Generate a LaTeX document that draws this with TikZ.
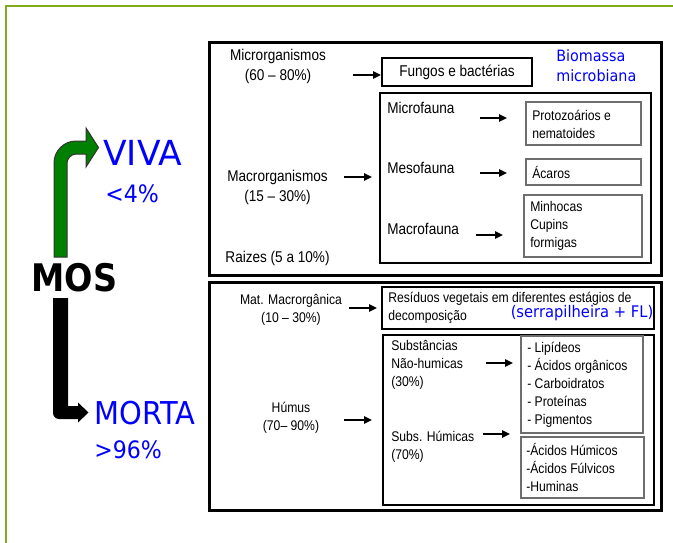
\documentclass[tikz,border=0pt]{standalone}
\usepackage{fontspec}
\setmainfont{Liberation Sans}
\newfontfamily\nar[FakeStretch=0.87]{Liberation Sans}
\newfontfamily\bluef[FakeStretch=0.92]{DejaVu Sans}
\newfontfamily\bluew{DejaVu Sans}
\newfontfamily\mosf[FakeStretch=0.88]{DejaVu Sans}
\usetikzlibrary{arrows.meta}
\definecolor{framegreen}{RGB}{130,170,30}
\definecolor{vgreen}{RGB}{0,128,0}
\definecolor{tblue}{RGB}{0,0,255}
\definecolor{boxgray}{RGB}{110,110,110}
\tikzset{
  lbl/.style={font={\nar\fontsize{11.7pt}{15pt}\selectfont}, inner sep=0pt, align=center},
  lblL/.style={lbl, align=left},
  sm/.style={font={\nar\fontsize{10.5pt}{13.5pt}\selectfont}, inner sep=0pt, align=left},
  smc/.style={sm, align=center},
  arr/.style={line width=1.5pt, -{Triangle[length=6pt,width=5.5pt]}},
  bigbox/.style={draw, line width=2.25pt},
  midbox/.style={draw, line width=1.9pt},
  innerbox/.style={draw, line width=1.1pt},
  smallbox/.style={draw=boxgray, line width=0.8pt},
  bluetxt/.style={text=tblue, inner sep=0pt, align=left}
}
\begin{document}
\begin{tikzpicture}[x=0.75pt,y=-0.75pt]
\useasboundingbox (0,0) rectangle (673,542);
\fill[white] (0,0) rectangle (673,542);
% frame
\draw[framegreen, line width=1.9pt] (6,546) -- (6,6) -- (677,6);

% left arrows
\filldraw[fill=vgreen, draw=black!80, line width=0.75pt]
  (54,257) -- (54,163) .. controls (54,150.9) and (63.9,141) .. (76,141)
  -- (86,141) -- (86,128) -- (98.5,147.5) -- (86,167) -- (86,154) -- (76,154)
  .. controls (71.05,154) and (67,158.95) .. (67,163) -- (67,257) -- cycle;
\fill[black]
  (53,298) -- (53,413) .. controls (53,416.3) and (55.7,419) .. (59,419)
  -- (78,419) -- (78,422.5) -- (88.5,412.5) -- (78,402.5) -- (78,406)
  -- (68,406) -- (68,298) -- cycle;

\node[inner sep=0pt, font={\mosf\bfseries\fontsize{28.5pt}{30pt}\selectfont}] (mos) at (74.5,277.5) {MOS};
\node[bluetxt, anchor=west, font={\bluew\fontsize{25.9pt}{28pt}\selectfont}] (viva) at (103,152.5) {VIVA};
\node[bluetxt, anchor=west, font={\bluef\fontsize{18pt}{20pt}\selectfont}] (vivap) at (105,193.5) {<4\%};
\node[bluetxt, anchor=west, font={\bluef\fontsize{23.6pt}{26pt}\selectfont}] (morta) at (94,413.5) {MORTA};
\node[bluetxt, anchor=west, font={\bluef\fontsize{18pt}{20pt}\selectfont}] (mortap) at (94,450) {>96\%};

% top box
\draw[bigbox] (209,43) rectangle (661,275);
\node[lbl] (micro) at (278,66) {Microrganismos\\(60 – 80\%)};
\draw[midbox] (382,58) rectangle (532,86);
\node[lbl] (fungos) at (457,72) {Fungos e bactérias};
\node[bluetxt, anchor=west, font={\bluef\fontsize{11.7pt}{15pt}\selectfont}] (bio) at (556,66) {Biomassa\\microbiana};
\draw[innerbox] (380,93) rectangle (651,263);
\node[lblL, anchor=west] (microf) at (387,108) {Microfauna};
\node[lblL, anchor=west] (mesof) at (387,168) {Mesofauna};
\node[lblL, anchor=west] (macrof) at (387,229) {Macrofauna};
\draw[smallbox] (526,102) rectangle (641,145);
\node[sm, anchor=west] (proto) at (532,124) {Protozoários e\\nematoides};
\draw[smallbox] (526,159) rectangle (641,185);
\node[sm, anchor=west] (acaros) at (532,172) {Ácaros};
\draw[smallbox] (524,195) rectangle (642,257);
\node[sm, anchor=west] (minh) at (530,226) {Minhocas\\Cupins\\formigas};
\node[lbl] (macro) at (277.5,187.5) {Macrorganismos\\(15 – 30\%)};
\node[lbl] (raizes) at (277.5,258) {Raizes (5 a 10\%)};

\coordinate (a1s) at (353,75); \coordinate (a1e) at (381,75);
\coordinate (a2s) at (344,177); \coordinate (a2e) at (372,177);
\coordinate (a3s) at (480,118); \coordinate (a3e) at (507,118);
\coordinate (a4s) at (480,173); \coordinate (a4e) at (507,173);
\coordinate (a5s) at (476,235); \coordinate (a5e) at (503,235);
\draw[arr] (a1s) -- (a1e);
\draw[arr] (a2s) -- (a2e);
\draw[arr] (a3s) -- (a3e);
\draw[arr] (a4s) -- (a4e);
\draw[arr] (a5s) -- (a5e);

% bottom box
\draw[bigbox] (209,282) rectangle (661,510);
\node[smc] (matmacro) at (291,310) {Mat. Macrorgânica\\(10 – 30\%)};
\draw[midbox] (382,287) rectangle (654,329);
\node[sm, anchor=west] (resid) at (388,308) {Resíduos vegetais em diferentes estágios de\\decomposição};
\node[bluetxt, font={\bluef\fontsize{12pt}{14pt}\selectfont}] (serra) at (582,313) {(serrapilheira + FL)};
\draw[innerbox] (383,335) rectangle (654,505);
\node[sm, anchor=west] (subst) at (391,365) {Substâncias\\Não-humicas\\(30\%)};
\draw[smallbox] (521,336) rectangle (643,433);
\node[sm, anchor=west] (lip) at (527,385) {- Lipídeos\\- Ácidos orgânicos\\- Carboidratos\\- Proteínas\\- Pigmentos};
\node[sm, anchor=west] (subsh) at (391,446.5) {Subs. Húmicas\\(70\%)};
\draw[smallbox] (521,437) rectangle (644,498);
\node[sm, anchor=west] (hum) at (526,467) {-Ácidos Húmicos\\-Ácidos Fúlvicos\\-Huminas};
\node[smc] (humus) at (291,418) {Húmus\\(70– 90\%)};

\coordinate (b1s) at (349,308); \coordinate (b1e) at (377,308);
\coordinate (b2s) at (344,420); \coordinate (b2e) at (372,420);
\coordinate (b3s) at (486,363); \coordinate (b3e) at (513,363);
\coordinate (b4s) at (483,434); \coordinate (b4e) at (510,434);
\draw[arr] (b1s) -- (b1e);
\draw[arr] (b2s) -- (b2e);
\draw[arr] (b3s) -- (b3e);
\draw[arr] (b4s) -- (b4e);
\end{tikzpicture}
\end{document}
